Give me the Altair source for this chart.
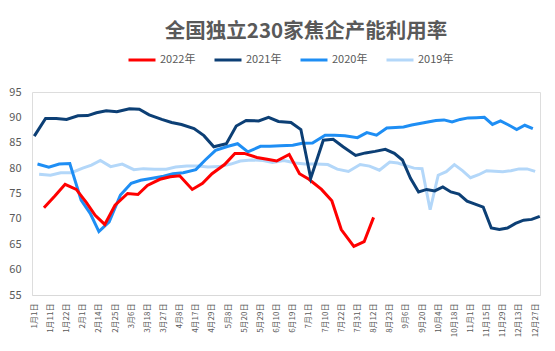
import json
import altair as alt
import numpy as np
import pandas as pd

# ---- axis labels (category dates shown on the x axis) ----
label_md = [(1, 1), (1, 11), (1, 22), (2, 1), (2, 14), (2, 25), (3, 6), (3, 18), (3, 27),
            (4, 8), (4, 17), (4, 29), (5, 8), (5, 20), (5, 29), (6, 10), (6, 19), (7, 1),
            (7, 10), (7, 22), (7, 31), (8, 12), (8, 23), (9, 6), (9, 20), (10, 4), (10, 18),
            (11, 1), (11, 15), (11, 29), (12, 13), (12, 27)]
labels = [f"{m}月{d}日" for m, d in label_md]

series_names = ["2022年", "2021年", "2020年", "2019年"]
series_colors = ["#FF0000", "#0C3F75", "#1E8EF4", "#B3D7F9"]

# weekly data, first date of each series
start_2022 = "2022-01-07"
start_2021 = "2021-01-01"
start_2020 = "2020-01-03"
start_2019 = "2019-01-04"

v2022 = [72.2, 74.5, 76.8, 75.8, 73.2, 70.7, 68.9, 72.7, 75.0, 74.8, 76.6, 77.8, 78.3, 78.5,
         75.8, 77.0, 78.9, 80.7, 82.9, 82.9, 82.1, 81.75, 81.4, 82.7, 78.9, 77.8, 75.8, 73.55,
         67.9, 64.6, 65.5, 70.3]
v2021 = [86.3, 89.8, 89.8, 89.6, 90.3, 90.35, 90.9, 91.3, 91.1, 91.7, 91.6, 90.5, 89.6, 89.0,
         88.6, 87.8, 86.4, 84.2, 84.8, 88.3, 89.4, 89.3, 90.0, 89.2, 89.0, 87.6, 78.0, 85.5,
         85.7, 84.2, 82.5, 83.0, 83.3, 83.7, 82.9, 81.6, 78.0, 75.3, 75.8, 75.5, 76.3, 75.3,
         74.9, 73.5, 72.9, 72.3, 68.2, 67.9, 68.2, 69.1, 69.75, 69.9, 70.5]
v2020 = [80.8, 80.2, 80.8, 80.9, 73.7, 71.1, 67.5, 69.4, 74.7, 77.0, 77.6, 77.95, 78.4, 78.9,
         79.1, 79.7, 81.6, 83.5, 84.3, 84.8, 83.2, 84.3, 84.3, 84.4, 84.5, 84.9, 84.95, 86.5,
         86.5, 86.4, 86.0, 87.0, 86.5, 87.9, 88.0, 88.1, 88.5, 88.8, 89.1, 89.4, 89.5, 89.1,
         89.6, 89.9, 89.95, 90.0, 88.6, 89.3, 88.5, 87.6, 88.45, 87.8]
v2019 = [78.8, 78.6, 79.1, 79.1, 80.0, 80.6, 81.5, 80.3, 80.8, 79.7, 79.9, 79.8, 79.8, 80.2,
         80.4, 80.4, 80.2, 80.3, 80.8, 81.4, 81.6, 81.5, 81.1, 81.5, 81.0, 80.8, 80.8, 80.7,
         79.8, 79.35, 80.7, 80.4, 79.6, 81.2, 81.0, 80.5, 80.0, 79.9, 71.8, 78.6, 79.3, 80.7,
         79.5, 78.1, 78.7, 79.5, 79.4, 79.3, 79.5, 79.85, 79.85, 79.35]

y_ticks = [55, 60, 65, 70, 75, 80, 85, 90, 95]


def doy(m, d):
    return pd.Timestamp(2021, m, d).dayofyear


label_doy = np.array([doy(m, d) for m, d in label_md], dtype=float)


def axis_pos(ts):
    dv = doy(ts.month, ts.day)
    if dv > label_doy[-1]:
        return len(label_doy) - 1 + (dv - label_doy[-1]) / 14.0
    return float(np.interp(dv, label_doy, np.arange(len(label_doy))))


rows = []
for name, start, vals in [("2022年", start_2022, v2022), ("2021年", start_2021, v2021),
                          ("2020年", start_2020, v2020), ("2019年", start_2019, v2019)]:
    for i, ts in enumerate(pd.date_range(start, periods=len(vals), freq="7D")):
        rows.append({"series": name, "idx": i, "pos": axis_pos(ts), "value": vals[i],
                     "date": ts.strftime("%Y-%m-%d")})
df = pd.DataFrame(rows)

FONT = "Noto Sans CJK SC"
GRAY = "#595959"

label_expr = "%s[datum.value]" % json.dumps(labels, ensure_ascii=False)

x_enc = alt.X("pos:Q",
              scale=alt.Scale(domain=[-0.14, 31.3], nice=False, zero=False),
              axis=alt.Axis(values=list(range(len(labels))), labelExpr=label_expr,
                            labelAngle=270, labelFontSize=8, labelColor=GRAY, labelFont=FONT,
                            labelPadding=8, ticks=False, grid=False, domainColor="#D9D9D9",
                            domainWidth=1, title=None, labelOverlap=False, labelBound=False,
                            labelFlush=False))
y_enc = alt.Y("value:Q",
              scale=alt.Scale(domain=[55, 95], nice=False, zero=False),
              axis=alt.Axis(values=y_ticks, labelFontSize=11, labelColor=GRAY, labelFont=FONT,
                            labelPadding=11, ticks=False, grid=False, domain=False, title=None))
color_enc = alt.Color("series:N",
                      scale=alt.Scale(domain=series_names, range=series_colors),
                      legend=alt.Legend(orient="none", direction="horizontal", legendX=95,
                                        legendY=-47, title=None, symbolType="stroke",
                                        symbolSize=729, symbolStrokeWidth=3,
                                        labelFontSize=11, labelColor=GRAY, labelFont=FONT,
                                        labelOffset=3, columnPadding=12))

base = alt.Chart(df).mark_line(strokeWidth=3).encode(
    x=x_enc, y=y_enc, color=color_enc, order="idx:Q")

draw_order = ["2019年", "2020年", "2022年", "2021年"]
layers = [base.transform_filter(alt.datum.series == s) for s in draw_order]

chart = alt.layer(*layers).properties(
    width=508, height=203,
    title=alt.TitleParams("全国独立230家焦企产能利用率", fontSize=20.5, fontWeight="bold",
                          color=GRAY, font=FONT, anchor="middle", dx=20, offset=3),
    autosize=alt.AutoSizeParams(type="none"),
    padding={"left": 32, "top": 92, "right": 15, "bottom": 56},
).configure_view(stroke=None).configure(background="white")

chart.save("out.html", embed_options={"renderer": "svg", "actions": False})
